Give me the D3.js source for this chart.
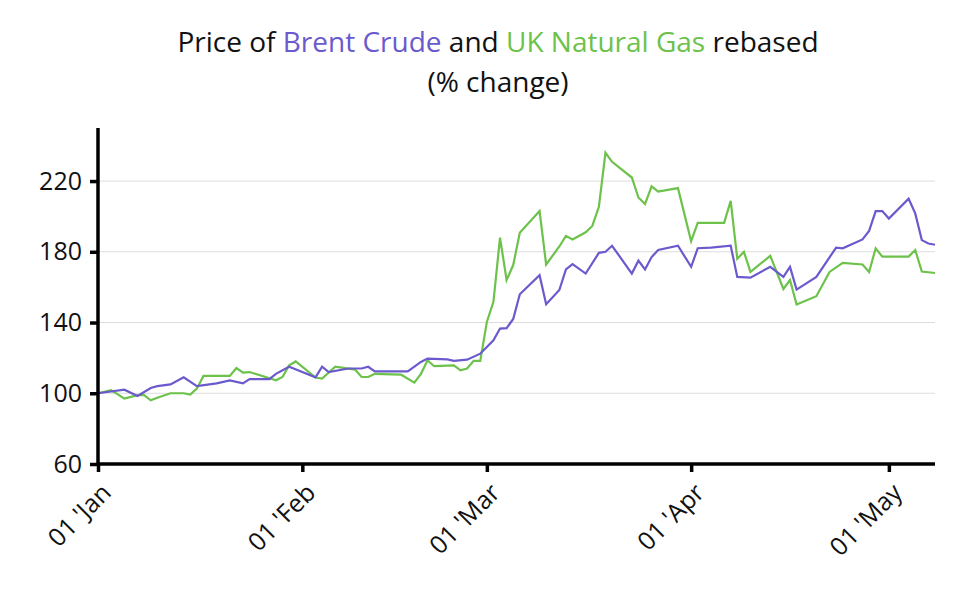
<!DOCTYPE html>
<html>
<head>
<meta charset="utf-8">
<script src="https://cdn.jsdelivr.net/npm/d3@7"></script>
<style>
body { margin:0; background:#fff; font-family: "Open Sans", sans-serif; }
</style>
</head>
<body>
<svg id="chart" width="960" height="600"></svg>
<script>
// days since 01 Jan, and rebased value
var brentDays = [0,4,6,8,9,11,13,15,18,20,22,23,26,27,29,31,33,34,35,38,40,41,42,47,49,50,53,54,56,58,60,61,62,63,64,67,68,70,71,72,74,76,77,78,81,82,83,84,85,88,90,91,93,96,97,99,102,104,105,106,109,112,113,116,117,118,119,120,123,124,125,126,127];
var brentVals = [100,102,98.5,103,104,105,109,104,105.6,107.3,105.6,108,108,111,115,112,109,115,112,114,114,115,112.4,112.4,117.7,119.6,119.2,118.3,119,122.4,130,136.6,136.8,142,156,166.8,150.4,158.4,170,173,167.7,179.4,180,183.4,167.7,175,170,177,181,183.4,171.5,182,182.4,183.4,165.8,165.4,171.5,165.8,171.5,158.6,165.8,182.4,182,187,191.8,203,203,198.8,210,201.7,186.6,184.7,184];
var gasDays = [0,2,3,4,6,7,8,9,11,13,14,15,16,20,21,22,23,27,28,29,30,33,34,36,39,40,41,42,46,48,49,50,51,54,55,56,57,58,59,60,61,62,63,64,67,68,70,71,72,74,75,76,77,78,81,82,83,84,85,88,90,91,95,96,97,98,99,102,104,105,106,109,111,113,116,117,118,119,123,124,125,127];
var gasVals = [100,101.7,99.4,97,98.9,98.9,96,97.5,100,100,99.2,102.6,109.8,109.8,114.3,111.7,112,107.3,109.2,115.8,118,108.9,108.3,115,113.4,109.2,109.2,111,110.5,106,111,118.7,115.3,115.8,113,114,118.3,118.3,140.3,151.7,188,164,172.5,190.7,203,172.8,183,189,187,191,194.6,205.4,236,230.9,222,210.7,207,217,214,216,186,196.4,196.4,208.8,176,180,168.6,177.7,159,164,150.2,154.9,168.6,173.7,172.8,168.6,182,177.3,177.3,181,168.8,168];
var yTicks = [60,100,140,180,220];
var monthTicks = ["2022-01-01","2022-02-01","2022-03-01","2022-04-01","2022-05-01"];

var purple = "#6a5acd", green = "#6cc24a";
var start = new Date(2022,0,1);
function dayDate(d){ return d3.timeDay.offset(start, d); }

var svg = d3.select('#chart');
var x = d3.scaleTime().domain([start, dayDate(127)]).range([98, 935]);
var y = d3.scaleLinear().domain([60, 250]).range([464, 128]);

// gridlines
svg.append('g').selectAll('line').data(yTicks.slice(1)).enter().append('line')
    .attr('x1', 98).attr('x2', 935)
    .attr('y1', function(d){ return y(d); }).attr('y2', function(d){ return y(d); })
    .attr('stroke', '#ddd').attr('stroke-width', 1);

var line = d3.line().x(function(d){ return x(dayDate(d[0])); }).y(function(d){ return y(d[1]); });
svg.append('path').datum(gasDays.map(function(d,i){ return [d, gasVals[i]]; }))
    .attr('d', line).attr('fill', 'none').attr('stroke', green).attr('stroke-width', 2.2);
svg.append('path').datum(brentDays.map(function(d,i){ return [d, brentVals[i]]; }))
    .attr('d', line).attr('fill', 'none').attr('stroke', purple).attr('stroke-width', 2.2);

// axes
var yAxis = svg.append('g').attr('transform', 'translate(98,0)')
    .call(d3.axisLeft(y).tickValues(yTicks).tickSize(8).tickPadding(8));
var xAxis = svg.append('g').attr('transform', 'translate(0,464)')
    .call(d3.axisBottom(x).tickValues(monthTicks.map(function(s){ return new Date(s+'T00:00'); }))
        .tickSize(8).tickFormat(function(d){ return d3.timeFormat("%d '%b")(d); }));
[yAxis, xAxis].forEach(function(a){
    a.selectAll('.domain, .tick line').attr('stroke', '#000').attr('stroke-width', 3.5);
    a.selectAll('text').attr('font-size', 25).attr('fill', '#111').attr('font-family', '"Open Sans", sans-serif');
});
yAxis.select('.domain').attr('d', 'M0,128V464');
xAxis.select('.domain').attr('d', 'M98,0H935');
xAxis.selectAll('text')
    .attr('text-anchor', 'end').attr('dy', '0.35em')
    .attr('transform', 'translate(8,24) rotate(-45)').attr('y', 0).attr('x', 0);

// title
var title = svg.append('text').attr('x', 498).attr('y', 52).attr('text-anchor', 'middle')
    .attr('font-size', 28).attr('fill', '#111');
title.append('tspan').text('Price of ');
title.append('tspan').attr('fill', purple).text('Brent Crude');
title.append('tspan').text(' and ');
title.append('tspan').attr('fill', green).text('UK Natural Gas');
title.append('tspan').text(' rebased');
svg.append('text').attr('x', 498).attr('y', 92).attr('text-anchor', 'middle')
    .attr('font-size', 28).attr('fill', '#111').text('(% change)');
</script>
</body>
</html>
